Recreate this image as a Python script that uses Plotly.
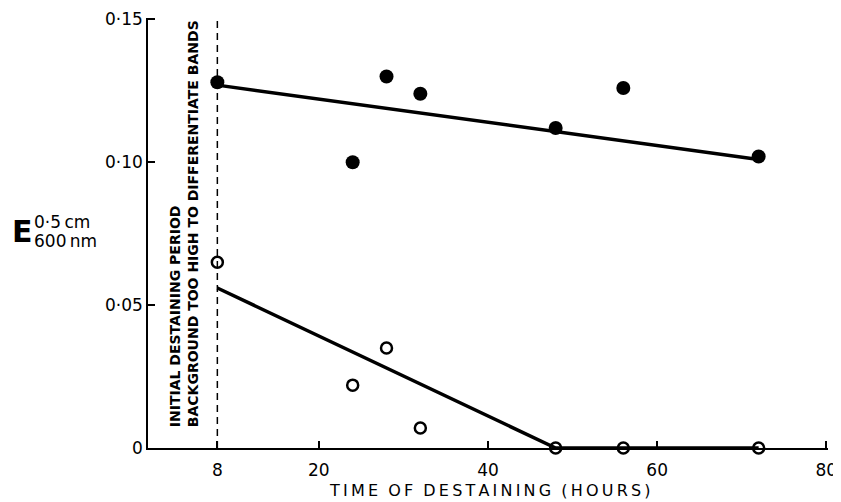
import plotly.graph_objects as go

# ---- data ----
hours = [8, 24, 28, 32, 48, 56, 72]
filled_vals = [0.128, 0.100, 0.130, 0.124, 0.112, 0.126, 0.102]
open_vals = [0.065, 0.022, 0.035, 0.007, 0.0, 0.0, 0.0]

filled_fit_x = [8, 72]
filled_fit_y = [0.127, 0.101]
open_fit_x = [8, 48, 72]
open_fit_y = [0.056, 0.0, 0.0]

initial_period_x = [8, 8]
initial_period_y = [0.0, 0.1505]

x_tickvals = [8, 20, 40, 60, 80]
x_ticktext = ["8", "20", "40", "60", "80"]
y_tickvals = [0, 0.05, 0.10, 0.15]
y_ticktext = ["0", "0\u00b705", "0\u00b710", "0\u00b715"]

FONT = "DejaVu Sans"


def spaced(s, sep="\u2009"):
    return "  ".join(sep.join(word) for word in s.split(" "))


fig = go.Figure()

fig.add_trace(go.Scatter(
    x=initial_period_x, y=initial_period_y, mode="lines",
    line=dict(color="black", width=1.5, dash="7px,5px"),
    showlegend=False, hoverinfo="skip", cliponaxis=False))

fig.add_trace(go.Scatter(
    x=filled_fit_x, y=filled_fit_y, mode="lines",
    line=dict(color="black", width=3.5), showlegend=False))
fig.add_trace(go.Scatter(
    x=open_fit_x, y=open_fit_y, mode="lines",
    line=dict(color="black", width=3.5), showlegend=False, cliponaxis=False))

fig.add_trace(go.Scatter(
    x=hours, y=filled_vals, mode="markers",
    marker=dict(symbol="circle", size=14, color="black"),
    showlegend=False, cliponaxis=False))
fig.add_trace(go.Scatter(
    x=hours, y=open_vals, mode="markers",
    marker=dict(symbol="circle-open", size=11, color="black",
                line=dict(width=2.5, color="black")),
    showlegend=False, cliponaxis=False))

# The page body has an 8px margin, so the figure starts at (8, 8) on screen.
OFF = 8
FIG_W, FIG_H = 841 - OFF, 502 - OFF
# plot area on screen: x pixels 148..828, y pixels 18..448
SL, ST, W, H = 148, 18, 680, 430
L, T = SL - OFF, ST - OFF


def px(xp):
    return (xp - SL) / W


def py(yp):
    return (ST + H - yp) / H


annotations = [
    dict(x=4.0, y=0.0785, xref="x", yref="y",
         text="INITIAL DESTAINING PERIOD<br>BACKGROUND TOO HIGH TO DIFFERENTIATE BANDS",
         textangle=-90, align="left", showarrow=False,
         xanchor="center", yanchor="middle",
         font=dict(family=FONT, size=14, color="black", weight="bold")),
    dict(x=px(22), y=py(232), xref="paper", yref="paper", text="E",
         showarrow=False, xanchor="center", yanchor="middle",
         font=dict(family=FONT, size=30, color="black", weight="bold")),
    dict(x=px(32), y=py(222), xref="paper", yref="paper", text="0\u00b75\u2009cm",
         showarrow=False, xanchor="left", yanchor="middle",
         font=dict(family=FONT, size=17, color="black")),
    dict(x=px(32), y=py(241), xref="paper", yref="paper", text="600\u2009nm",
         showarrow=False, xanchor="left", yanchor="middle",
         font=dict(family=FONT, size=17, color="black")),
    dict(x=px(490), y=py(490), xref="paper", yref="paper",
         text=spaced("TIME OF DESTAINING (HOURS)"),
         showarrow=False, xanchor="center", yanchor="middle",
         font=dict(family=FONT, size=16, color="black")),
]

fig.update_layout(
    width=FIG_W, height=FIG_H,
    margin=dict(l=L, r=FIG_W - L - W, t=T, b=FIG_H - T - H, pad=0,
                autoexpand=False),
    paper_bgcolor="white", plot_bgcolor="white",
    font=dict(family=FONT, color="black"),
    annotations=annotations,
    xaxis=dict(range=[-0.2, 80.2], tickvals=x_tickvals, ticktext=x_ticktext,
               ticks="inside", ticklen=7, tickwidth=1.5, tickcolor="black",
               showline=True, linecolor="black", linewidth=1.5,
               showgrid=False, zeroline=False, automargin=False,
               ticklabelstandoff=6,
               tickfont=dict(family=FONT, size=17, color="black")),
    yaxis=dict(range=[0, 0.1505], tickvals=y_tickvals, ticktext=y_ticktext,
               ticks="inside", ticklen=7, tickwidth=1.5, tickcolor="black",
               showline=True, linecolor="black", linewidth=1.5,
               showgrid=False, zeroline=False, automargin=False,
               tickfont=dict(family=FONT, size=17, color="black")),
)

fig.write_html("out.html")
